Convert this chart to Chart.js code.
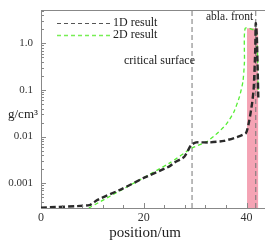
<!DOCTYPE html>
<html>
<head>
<meta charset="utf-8">
<script src="https://cdn.jsdelivr.net/npm/chart.js@4"></script>
<style>
  html, body { margin: 0; padding: 0; background: #fff; }
  #wrap { width: 265px; height: 243px; }
</style>
</head>
<body>
<div id="wrap"><canvas id="chart" width="265" height="243"></canvas></div>
<script>
// density profiles, position in um, density in g/cm3
const pos1D = [0, 9.4, 11, 15.8, 20, 25, 26, 27.9, 29.2, 30.2, 32.7, 35.6, 38.2, 39.9, 40.5, 41.1, 41.4, 41.7, 41.8, 42.0, 42.3];
const rho1D = [0.0003, 0.00034, 0.00044, 0.00076, 0.0013, 0.0023, 0.0028, 0.0037, 0.0066, 0.0075, 0.0075, 0.0081, 0.0098, 0.012, 0.021, 0.053, 0.11, 0.72, 2.7, 1.5, 0.067];
const pos2D = [9.3, 25, 29.4, 32.2, 34, 36, 37.5, 38.6, 39.3, 39.6, 39.75, 41.8, 42.1, 42.25];
const rho2D = [0.000295, 0.0027, 0.0057, 0.0077, 0.011, 0.018, 0.033, 0.07, 0.15, 0.4, 2.1, 1.8, 0.9, 0.1];
const criticalPos = 29.4;
const ablaPos = 41.8;
const bandPos = [40.1, 42.3];
const bandTop = 2.1;
const xTicks = [0, 20, 40];
const yTicks = [0.001, 0.01, 0.1, 1];
const yTickLabels = ['0.001', '0.01', '0.1', '1.0'];

const yMin = 0.000295, yMax = 5.17;
const serif = '"Liberation Serif", "DejaVu Serif", serif';

const pts = (xs, ys) => xs.map((x, i) => ({ x: x, y: ys[i] }));

const extras = {
  id: 'extras',
  afterDraw(chart) {
    const c = chart.ctx, a = chart.chartArea;
    const xs = chart.scales.x, ys = chart.scales.y;
    c.save();
    c.strokeStyle = '#888';
    c.lineWidth = 1;
    // top frame line
    c.beginPath(); c.moveTo(a.left, a.top + 0.5); c.lineTo(a.right, a.top + 0.5); c.stroke();
    // inward ticks, y axis
    c.beginPath();
    for (let e = -4; e <= 0; e++) {
      for (let k = 1; k <= 9; k++) {
        const v = k * Math.pow(10, e);
        if (v < yMin || v > yMax) continue;
        const py = Math.round(ys.getPixelForValue(v)) + 0.5;
        const len = k === 1 ? 5 : 3;
        c.moveTo(a.left, py); c.lineTo(a.left + len, py);
      }
    }
    // inward ticks, x axis
    for (let v = 4; v <= 43; v += 4) {
      const px = Math.round(xs.getPixelForValue(v)) + 0.5;
      const len = v % 20 === 0 ? 5 : 3;
      c.moveTo(px, a.bottom); c.lineTo(px, a.bottom - len);
    }
    c.stroke();

    // legend
    c.lineWidth = 1;
    c.setLineDash([4, 3]);
    c.strokeStyle = '#555';
    c.beginPath(); c.moveTo(57, 23.5); c.lineTo(110, 23.5); c.stroke();
    c.strokeStyle = '#77ee55';
    c.lineWidth = 1.4;
    c.beginPath(); c.moveTo(57, 35.5); c.lineTo(110, 35.5); c.stroke();
    c.setLineDash([]);

    c.fillStyle = '#222';
    c.font = '12px ' + serif;
    c.textBaseline = 'middle';
    c.textAlign = 'left';
    c.fillText('1D result', 113, 23);
    c.fillText('2D result', 113, 35);
    c.fillText('critical surface', 124, 61);
    c.font = '11.5px ' + serif;
    c.fillText('abla. front', 206, 17);

    // axis titles
    c.font = '13px ' + serif;
    c.fillText('g/cm³', 8, 115);
    c.font = '15px ' + serif;
    c.textAlign = 'center';
    c.fillText('position/um', 145, 233);
    c.restore();
  }
};

new Chart(document.getElementById('chart').getContext('2d'), {
  type: 'line',
  data: {
    datasets: [
      {
        label: 'band',
        data: pts(bandPos, [bandTop, bandTop]),
        borderWidth: 0,
        backgroundColor: '#f5a3b4',
        fill: 'start',
        pointRadius: 0,
        order: 5
      },
      {
        label: 'critical surface',
        data: pts([criticalPos, criticalPos], [yMin, yMax]),
        borderColor: '#777',
        borderWidth: 1,
        borderDash: [5, 3],
        pointRadius: 0,
        order: 4
      },
      {
        label: 'abla. front',
        data: pts([ablaPos, ablaPos], [yMin, yMax]),
        borderColor: '#777',
        borderWidth: 1,
        borderDash: [5, 3],
        pointRadius: 0,
        order: 4
      },
      {
        label: '2D result',
        data: pts(pos2D, rho2D),
        borderColor: '#55ee33',
        borderWidth: 1.3,
        borderDash: [4, 3],
        pointRadius: 0,
        tension: 0.2,
        order: 2
      },
      {
        label: '1D result',
        data: pts(pos1D, rho1D),
        borderColor: '#2a2a2a',
        borderWidth: 2.4,
        borderDash: [6, 3],
        pointRadius: 0,
        tension: 0.2,
        order: 1
      }
    ]
  },
  options: {
    responsive: false,
    animation: false,
    layout: { padding: { top: 10, right: 0, left: 0, bottom: 0 } },
    plugins: { legend: { display: false }, tooltip: { enabled: false } },
    scales: {
      x: {
        type: 'linear',
        min: 0,
        max: 43.6,
        grid: { display: false, drawTicks: false },
        border: { display: true, color: '#888', width: 1 },
        afterBuildTicks: s => { s.ticks = xTicks.map(v => ({ value: v })); },
        afterFit: s => { s.height = 35; s.paddingLeft = 0; s.paddingRight = 0; },
        ticks: { color: '#333', padding: 3, maxRotation: 0, autoSkip: false, font: { family: serif, size: 12 } }
      },
      y: {
        type: 'logarithmic',
        min: yMin,
        max: yMax,
        grid: { display: false, drawTicks: false },
        border: { display: true, color: '#888', width: 1 },
        afterBuildTicks: s => { s.ticks = yTicks.map(v => ({ value: v })); },
        afterFit: s => { s.width = 41; s.paddingTop = 0; s.paddingBottom = 0; },
        ticks: {
          color: '#333',
          padding: 8,
          autoSkip: false,
          font: { family: serif, size: 11 },
          callback: v => { const i = yTicks.indexOf(v); return i >= 0 ? yTickLabels[i] : ''; }
        }
      }
    }
  },
  plugins: [extras]
});
</script>
</body>
</html>
